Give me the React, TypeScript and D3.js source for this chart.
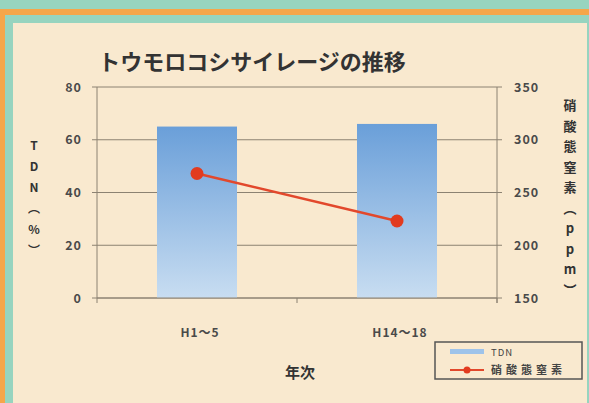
import React from "react";
import * as d3 from "d3";

const categories = ["H1～5", "H14～18"];
const tdnValues = [65, 66];
const nitrateValues = [268, 223];
const leftTicks = [0, 20, 40, 60, 80];
const rightTicks = [150, 200, 250, 300, 350];
const leftLabelChars = ["T", "D", "N", "︵", "%", "︶"];
const rightLabelChars = ["硝", "酸", "態", "窒", "素", "︵", "p", "p", "m", "︶"];

const W = 589, H = 403;
const L = 97, R = 497, T = 87, B = 298;
const font = "'Noto Sans CJK JP', 'Noto Sans', sans-serif";

export default function App() {
  const x = d3.scaleBand<string>().domain(categories).range([L, R]).padding(0);
  const yL = d3.scaleLinear().domain([0, 80]).range([B, T]);
  const yR = d3.scaleLinear().domain([150, 350]).range([B, T]);
  const bw = x.bandwidth() * 0.4;
  const cx = (c: string) => (x(c) as number) + x.bandwidth() / 2;
  const line = d3.line<number>().x((_, i) => cx(categories[i])).y((d) => yR(d));
  const grid = "#8c8272";
  const txt = "#4a4a4a";

  return (
    <svg width={W} height={H} style={{ position: "absolute", left: 0, top: 0 }}>
      <defs>
        <linearGradient id="barg" x1="0" y1="0" x2="0" y2="1">
          <stop offset="0" stopColor="#6a9fd9" />
          <stop offset="1" stopColor="#c8ddf1" />
        </linearGradient>
      </defs>
      <rect x={0} y={0} width={W} height={H} fill="#97d4bf" />
      <rect x={0} y={9} width={W} height={6} fill="#f5a64a" />
      <rect x={0} y={9} width={5} height={H} fill="#f5a64a" />
      <rect x={13} y={23} width={574} height={H} fill="#f9e9cf" />

      <text x={252} y={70} textAnchor="middle" fontFamily={font} fontWeight="bold" fontSize={22} fill="#333">
        トウモロコシサイレージの推移
      </text>

      {leftTicks.map((t) => (
        <g key={"l" + t}>
          <line x1={L - 5} x2={R} y1={yL(t)} y2={yL(t)} stroke={grid} strokeWidth={1} />
          <text x={L - 15} y={yL(t) + 4.5} textAnchor="end" fontFamily={font} fontWeight="bold" fontSize={12.5} letterSpacing={1} fill={txt}>{t}</text>
        </g>
      ))}
      {rightTicks.map((t) => (
        <g key={"r" + t}>
          <line x1={R} x2={R + 5} y1={yR(t)} y2={yR(t)} stroke={grid} strokeWidth={1} />
          <text x={R + 17} y={yR(t) + 4.5} textAnchor="start" fontFamily={font} fontWeight="bold" fontSize={12.5} letterSpacing={1} fill={txt}>{t}</text>
        </g>
      ))}
      <line x1={L} x2={L} y1={T} y2={B} stroke={grid} />
      <line x1={R} x2={R} y1={T} y2={B + 5} stroke={grid} />
      {[L, L + x.step(), R].map((p, i) => (
        <line key={"bt" + i} x1={p} x2={p} y1={B} y2={B + 5} stroke={grid} />
      ))}

      {categories.map((c, i) => (
        <rect key={"b" + c} x={cx(c) - bw / 2} y={yL(tdnValues[i])} width={bw} height={B - yL(tdnValues[i])} fill="url(#barg)" />
      ))}
      <line x1={L} x2={R} y1={B} y2={B} stroke={grid} />

      <path d={line(nitrateValues) || ""} fill="none" stroke="#e2482c" strokeWidth={2.5} />
      {nitrateValues.map((v, i) => (
        <circle key={"p" + i} cx={cx(categories[i])} cy={yR(v)} r={6.5} fill="#e23b1f" />
      ))}

      {categories.map((c) => (
        <text key={"c" + c} x={cx(c) + 3} y={337} textAnchor="middle" fontFamily={font} fontWeight="bold" fontSize={12} letterSpacing={1} fill={txt}>{c}</text>
      ))}
      <text x={300} y={378} textAnchor="middle" fontFamily={font} fontWeight="bold" fontSize={15} fill="#333">年次</text>

      {leftLabelChars.map((ch, i) => (
        <text key={"lc" + i} x={34} y={150 + i * 21} textAnchor="middle" fontFamily={font} fontWeight="bold" fontSize={12} fill="#333">{ch}</text>
      ))}
      {rightLabelChars.map((ch, i) => (
        <text key={"rc" + i} x={570} y={110 + i * 20.5} textAnchor="middle" fontFamily={font} fontWeight="bold" fontSize={13} fill="#333">{ch}</text>
      ))}

      <rect x={435} y={342} width={147} height={37} fill="none" stroke="#555" strokeWidth={1.5} />
      <rect x={450} y={349} width={34} height={5} fill="#9ec3ea" />
      <text x={491} y={356} fontFamily={font} fontSize={9.5} letterSpacing={1} fill="#444">TDN</text>
      <line x1={450} x2={484} y1={370} y2={370} stroke="#e2482c" strokeWidth={2} />
      <circle cx={467} cy={370} r={3.5} fill="#e23b1f" />
      <text x={491} y={374} fontFamily={font} fontSize={11} fontWeight="bold" letterSpacing={4} fill="#444">硝酸態窒素</text>
    </svg>
  );
}
